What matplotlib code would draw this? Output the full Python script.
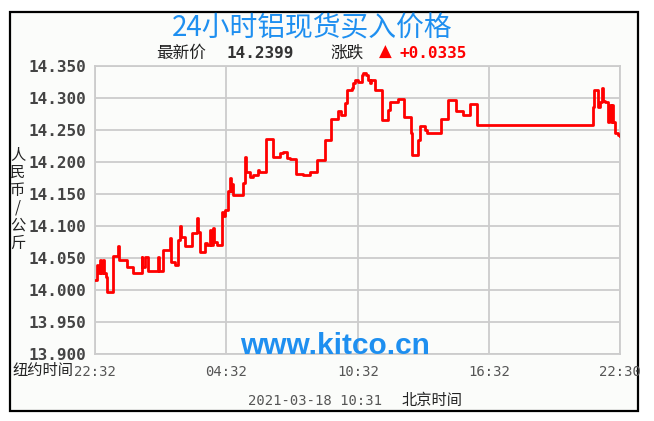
import matplotlib.pyplot as plt
from matplotlib.patches import Rectangle

# minutes after 22:32 (New York time axis), price in CNY/kg, step style
minutes = [0, 5, 9, 14, 16, 23, 25, 29, 32, 50, 64, 66, 87, 105, 128, 130, 137, 146,
           173, 175, 187, 205, 207, 219, 228, 233, 236, 247, 265, 279, 281, 288, 301,
           307, 315, 318, 324, 326, 333, 347, 351, 356, 365, 370, 373, 375, 379, 406,
           411, 414, 425, 434, 447, 450, 468, 487, 507, 516, 525, 534, 551, 569, 589,
           607, 609, 630, 646, 666, 673, 685, 691, 703, 708, 712, 721, 731, 735, 742,
           749, 753, 755, 767, 787, 803, 808, 829, 846, 866, 869, 886, 890, 904, 909,
           947, 966, 989, 1009, 1027, 1046, 1365, 1367, 1379, 1383, 1390, 1391, 1397,
           1406, 1409, 1413, 1415, 1420, 1424, 1433, 1438]
prices = [14.016, 14.039, 14.027, 14.047, 14.027, 14.047, 14.027, 14.020, 13.997,
          14.053, 14.068, 14.047, 14.036, 14.026, 14.052, 14.036, 14.052, 14.030,
          14.052, 14.030, 14.062, 14.081, 14.043, 14.039, 14.078, 14.100, 14.083,
          14.068, 14.089, 14.112, 14.091, 14.060, 14.073, 14.070, 14.094, 14.070,
          14.097, 14.075, 14.070, 14.122, 14.115, 14.125, 14.154, 14.175, 14.154,
          14.165, 14.149, 14.167, 14.208, 14.185, 14.177, 14.180, 14.187, 14.185,
          14.236, 14.208, 14.214, 14.216, 14.206, 14.204, 14.182, 14.180, 14.185,
          14.193, 14.203, 14.234, 14.267, 14.279, 14.273, 14.292, 14.3125, 14.316,
          14.323, 14.328, 14.325, 14.336, 14.339, 14.336, 14.328, 14.323, 14.328,
          14.3125, 14.266, 14.281, 14.294, 14.298, 14.271, 14.245, 14.211, 14.234,
          14.256, 14.250, 14.245, 14.267, 14.297, 14.280, 14.274, 14.291, 14.258,
          14.286, 14.3125, 14.286, 14.294, 14.315, 14.295, 14.294, 14.263, 14.289,
          14.263, 14.289, 14.263, 14.245, 14.242, 14.240]

y_ticks = [13.90, 13.95, 14.00, 14.05, 14.10, 14.15, 14.20, 14.25, 14.30, 14.35]
x_ticks = [0, 360, 720, 1080, 1438]
x_labels = ['22:32', '04:32', '10:32', '16:32', '22:30']

title = '24小时铝现货买入价格'
last_price = '14.2399'
change = '+0.0335'
stamp = '2021-03-18 10:31'

W, H = 654, 421
cjk = ['Noto Sans CJK SC', 'DejaVu Sans']
mono = 'DejaVu Sans Mono'
bg = '#fbfcfa'


def px(x, y):
    return x / W, 1 - y / H


fig = plt.figure(figsize=(W / 100, H / 100), dpi=100)
fig.patch.set_facecolor('white')
fig.patches.append(Rectangle(px(10, 411), 628 / W, 399 / H, transform=fig.transFigure,
                             facecolor=bg, edgecolor='black', linewidth=1.6, zorder=-1))

ax = fig.add_axes([95 / W, 1 - 354 / H, 525 / W, 288 / H])
ax.set_facecolor(bg)
ax.step(minutes, prices, where='post', color='#ff0000', linewidth=2.0, zorder=3)

ax.set_xlim(0, 1438)
ax.set_ylim(13.90, 14.35)
ax.set_yticks(y_ticks)
ax.set_yticklabels(['%.3f' % v for v in y_ticks], fontfamily=mono, fontweight='bold',
                   fontsize=11.5, color='#444444')
ax.set_xticks(x_ticks)
ax.set_xticklabels(x_labels, fontfamily=mono, fontsize=10, color='#555555')
ax.tick_params(length=0)
ax.tick_params(axis='y', pad=6)
ax.tick_params(axis='x', pad=8)
ax.grid(True, color='#cccccc', linewidth=1.3)
for s in ax.spines.values():
    s.set_color('#cccccc')
    s.set_linewidth(1.3)

fig.text(*px(240, 354), 'www.kitco.cn', ha='left', va='baseline',
         fontfamily='Liberation Sans', fontweight='bold', fontsize=21.5, color='#1e8ff0',
         zorder=2)

fig.text(*px(312, 28), title, ha='center', va='center', family=cjk, fontsize=20,
         color='#1e8ff0')
fig.text(*px(156, 53), '最新价', ha='left', va='center', family=cjk, fontsize=12,
         color='#222222')
fig.text(*px(227, 53), last_price, ha='left', va='center', fontfamily=mono,
         fontweight='bold', fontsize=11.5, color='#333333')
fig.text(*px(330, 53), '涨跌', ha='left', va='center', family=cjk, fontsize=12,
         color='#222222')
fig.text(*px(379, 52), '▲', ha='left', va='center', fontfamily='DejaVu Sans',
         fontsize=12, color='#ff0000')
fig.text(*px(400, 53), change, ha='left', va='center', fontfamily=mono,
         fontweight='bold', fontsize=11.5, color='#ff0000')

fig.text(*px(18, 199), '\n'.join('人民币/公斤'), ha='center', va='center', family=cjk,
         fontsize=11, color='#222222', linespacing=1.05)
fig.text(*px(12, 370), '纽约时间', ha='left', va='center', family=cjk, fontsize=11,
         color='#222222')
fig.text(*px(248, 401), stamp, ha='left', va='center', fontfamily=mono, fontsize=10,
         color='#555555')
fig.text(*px(402, 401), '北京时间', ha='left', va='center', family=cjk, fontsize=11,
         color='#222222')

fig.savefig('out.png', dpi=100, facecolor='white')
